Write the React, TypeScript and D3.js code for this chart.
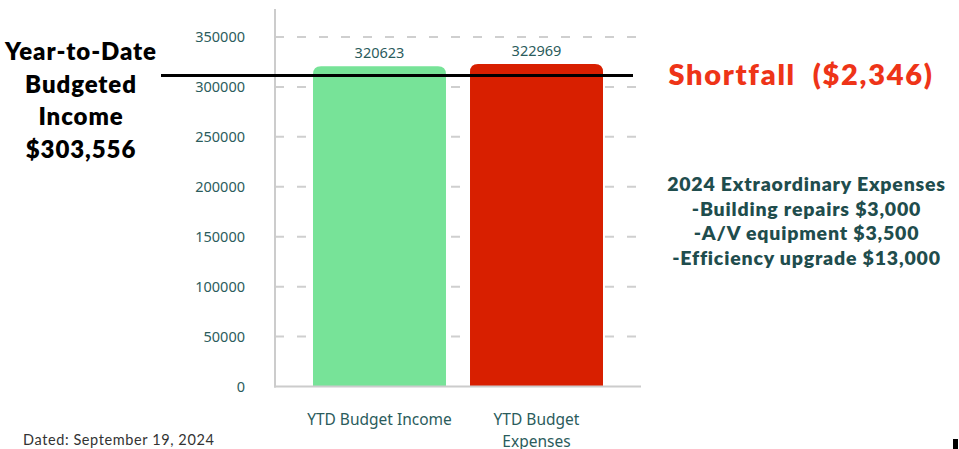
import React from "react";
import * as d3 from "d3";

const categories = ["YTD Budget Income", "YTD Budget Expenses"];
const categoryLines = [["YTD Budget Income"], ["YTD Budget", "Expenses"]];
const values = [320623, 322969];
const barColors = ["#77e398", "#d81f00"];
const yTicks = [0, 50000, 100000, 150000, 200000, 250000, 300000, 350000];
const budgetLineValue = 311500;
const leftLabel = ["Year-to-Date", "Budgeted", "Income", "$303,556"];
const shortfallLabel = "Shortfall  ($2,346)";
const extraLines = [
  "2024 Extraordinary Expenses",
  "-Building repairs $3,000",
  "-A/V equipment $3,500",
  "-Efficiency upgrade $13,000",
];
const dateLabel = "Dated: September 19, 2024";

const W = 959;
const H = 449;
const x0 = 275;
const x1 = 641;
const yBase = 386.5;
const yTop = 37;

export default function App() {
  const y = d3.scaleLinear().domain([0, 350000]).range([yBase, yTop]);
  const x = d3
    .scaleBand<string>()
    .domain(categories)
    .range([x0, x1])
    .paddingInner(0.153)
    .paddingOuter(0.242);
  const bw = x.bandwidth();
  const r = 8;
  const barPath = (cx: number, top: number, w: number, bottom: number) => {
    const h = bottom - top;
    const rr = Math.min(r, h / 2);
    return `M${cx},${bottom}V${top + rr}Q${cx},${top} ${cx + rr},${top}H${cx + w - rr}Q${cx + w},${top} ${cx + w},${top + rr}V${bottom}Z`;
  };
  const teal = "#2b5c5c";
  return (
    <svg
      width={W}
      height={H}
      style={{ position: "absolute", left: 0, top: 0, background: "#fff" }}
    >
      {/* gridlines */}
      {yTicks.slice(1).map((t) => (
        <line
          key={t}
          x1={x0}
          x2={x1}
          y1={y(t)}
          y2={y(t)}
          stroke="#cfcfcf"
          strokeWidth={2}
          strokeDasharray="9,13"
        />
      ))}
      {/* tick labels */}
      {yTicks.map((t) => (
        <text
          key={t}
          x={245}
          y={y(t) + 5}
          textAnchor="end"
          fontFamily="'Noto Sans', sans-serif"
          fontSize={14.5}
          fill={teal}
        >
          {t}
        </text>
      ))}
      {/* bars */}
      {categories.map((c, i) => (
        <g key={c}>
          <path
            d={barPath(x(c)!, y(values[i]), bw, yBase)}
            fill={barColors[i]}
          />
          <text
            x={x(c)! + bw / 2}
            y={y(values[i]) - 8}
            textAnchor="middle"
            fontFamily="'Noto Sans', sans-serif"
            fontSize={14.5}
            fill={teal}
          >
            {values[i]}
          </text>
          {categoryLines[i].map((ln, j) => (
            <text
              key={j}
              x={x(c)! + bw / 2}
              y={425 + j * 22}
              textAnchor="middle"
              fontFamily="'Noto Sans', sans-serif"
              fontSize={15.5}
              fill={teal}
            >
              {ln}
            </text>
          ))}
        </g>
      ))}
      {/* axes */}
      <line x1={x0} x2={x0} y1={9} y2={yBase + 1} stroke="#cccccc" strokeWidth={2} />
      <line x1={x0 - 1} x2={x1} y1={yBase} y2={yBase} stroke="#cccccc" strokeWidth={2} />
      {/* budget line */}
      <line
        x1={161}
        x2={633}
        y1={y(budgetLineValue)}
        y2={y(budgetLineValue)}
        stroke="#000"
        strokeWidth={3}
      />
      {/* left label */}
      {leftLabel.map((ln, i) => (
        <text
          key={i}
          x={81}
          y={60 + i * 32.6}
          textAnchor="middle"
          fontFamily="Lato, sans-serif"
          fontWeight={800}
          fontSize={24}
          letterSpacing={0.9}
          fill="#000"
        >
          {ln}
        </text>
      ))}
      {/* shortfall */}
      <text
        x={801}
        y={85}
        textAnchor="middle"
        fontFamily="Lato, sans-serif"
        fontWeight={800}
        fontSize={29}
        letterSpacing={1.7}
        fill="#ee3418"
        style={{ whiteSpace: "pre" }}
      >
        {shortfallLabel}
      </text>
      {extraLines.map((ln, i) => (
        <text
          key={i}
          x={806.5}
          y={191 + i * 24.5}
          textAnchor="middle"
          fontFamily="Lato, sans-serif"
          fontWeight={800}
          fontSize={19.5}
          letterSpacing={0.8}
          fill="#1f4d4d"
        >
          {ln}
        </text>
      ))}
      <text
        x={23}
        y={445}
        fontFamily="Lato, sans-serif"
        fontSize={14.5}
        letterSpacing={0.6}
        fill="#333"
      >
        {dateLabel}
      </text>
      <rect x={953} y={439} width={5} height={10} fill="#000" />
    </svg>
  );
}
